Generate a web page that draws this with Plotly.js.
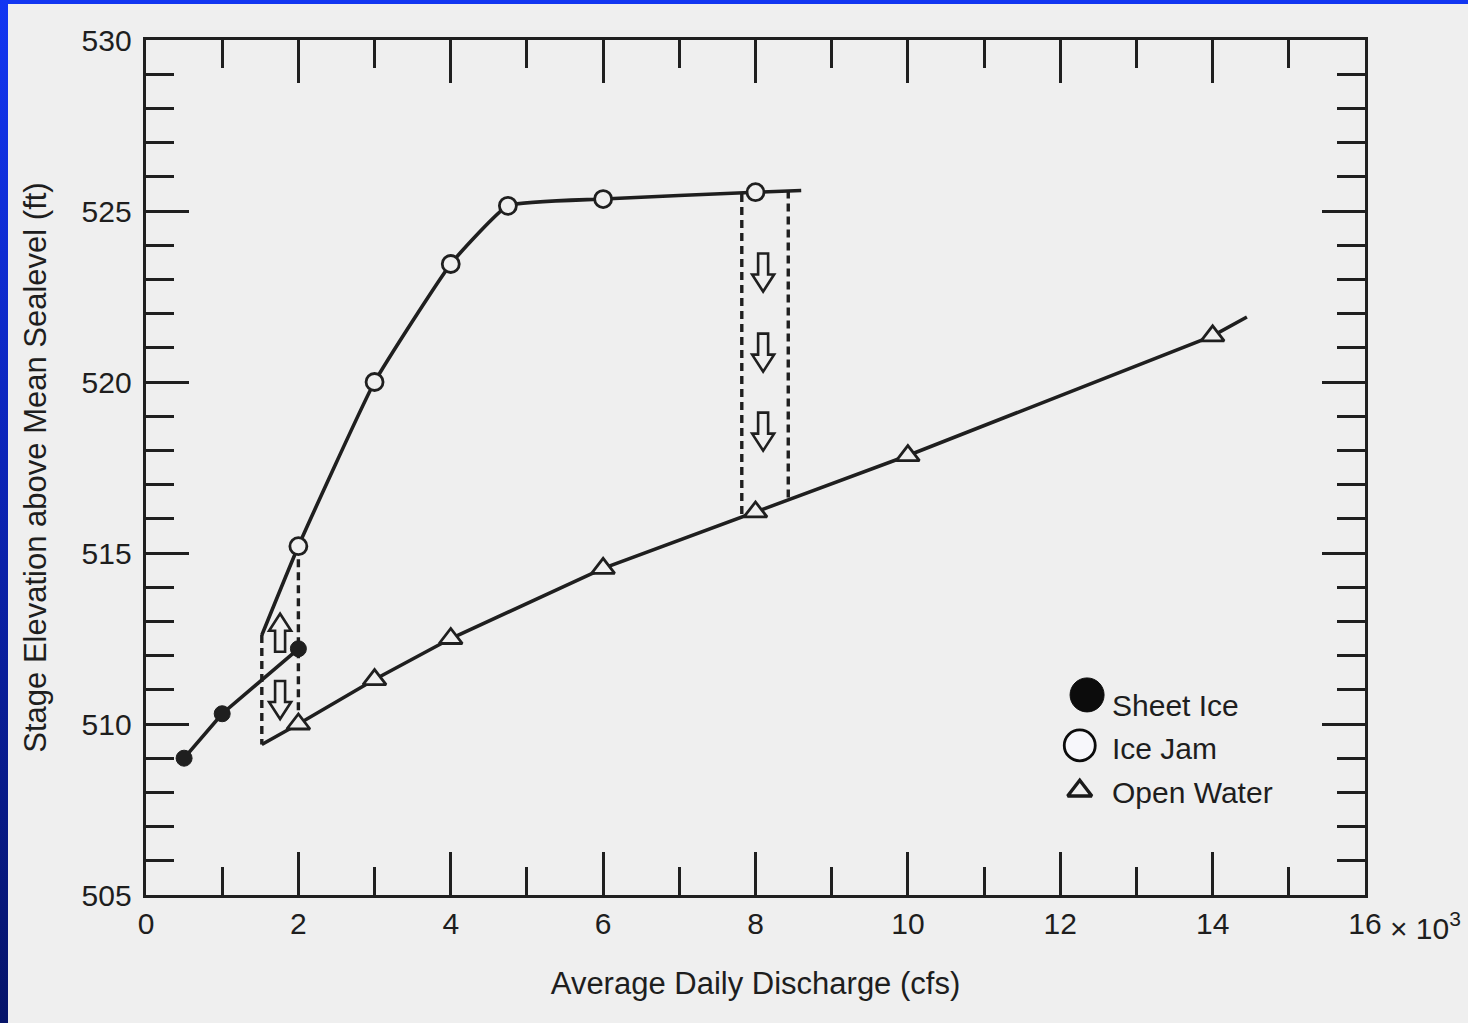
<!DOCTYPE html>
<html>
<head>
<meta charset="utf-8">
<script src="https://cdn.plot.ly/plotly-3.0.1.min.js"></script>
<style>
  html, body { margin: 0; padding: 0; }
  body {
    width: 1468px; height: 1023px; overflow: hidden;
    background: linear-gradient(to bottom, #1236f2 0%, #0b24b8 45%, #061469 100%);
  }
  #chart { position: absolute; left: 8px; top: 4px; width: 1460px; height: 1019px; }
</style>
</head>
<body>
<div id="chart"></div>
<script>
// ---------- data (discharge in thousands of cfs, stage in ft) ----------
const sheetIceX = [0.5, 1.0, 2.0];
const sheetIceY = [509.0, 510.3, 512.2];

const iceJamX = [2.0, 3.0, 4.0, 4.75, 6.0, 8.0];
const iceJamY = [515.2, 520.0, 523.45, 525.15, 525.35, 525.55];
const iceJamStart = [1.52, 512.6];   // curve begins (no marker)
const iceJamEnd = [8.6, 525.6];      // curve ends (no marker)

const openWaterX = [2.0, 3.0, 4.0, 6.0, 8.0, 10.0, 14.0];
const openWaterY = [510.0, 511.3, 512.5, 514.55, 516.2, 517.85, 521.35];
const openWaterStart = [1.52, 509.4];
const openWaterEnd = [14.45, 521.9];

// dashed transition bounds
const dropX = [1.52, 2.0, 7.82, 8.43];
const dropTop = [512.6, 515.2, 525.5, 525.6];
const dropBottom = [509.4, 510.0, 516.05, 516.6];

// hollow arrows: [x, y centre, direction]
const arrowX = [1.76, 1.76, 8.1, 8.1, 8.1];
const arrowY = [512.67, 510.7, 523.2, 520.86, 518.55];
const arrowDir = ["up", "down", "down", "down", "down"];

const legendLabels = ["Sheet Ice", "Ice Jam", "Open Water"];

const xTickVals = [0, 2, 4, 6, 8, 10, 12, 14, 16];
const xTickText = ["0", "2", "4", "6", "8", "10", "12", "14", "16"];
const yTickVals = [505, 510, 515, 520, 525, 530];

// ---------- styling ----------
const INK = "#1f1f1f";
const TEXT = "#1e1e1e";
const PAPER = "#efefef";
const FONT = "Liberation Sans, Arial, Helvetica, sans-serif";

// dashed segments built from the arrays
const dashX = [], dashY = [];
dropX.forEach((x, i) => { dashX.push(x, x, null); dashY.push(dropTop[i], dropBottom[i], null); });

const traces = [
  { x: dashX, y: dashY, mode: "lines", line: { color: INK, width: 3.4, dash: "8px,5px" },
    hoverinfo: "skip", showlegend: false },
  { x: [iceJamStart[0], ...iceJamX, iceJamEnd[0]], y: [iceJamStart[1], ...iceJamY, iceJamEnd[1]],
    mode: "lines", line: { color: INK, width: 3.6, shape: "spline", smoothing: 0.4 },
    hoverinfo: "skip", showlegend: false },
  { x: [openWaterStart[0], ...openWaterX, openWaterEnd[0]], y: [openWaterStart[1], ...openWaterY, openWaterEnd[1]],
    mode: "lines", line: { color: INK, width: 3.6 }, hoverinfo: "skip", showlegend: false },
  { x: sheetIceX, y: sheetIceY, mode: "lines+markers", name: "Sheet Ice",
    line: { color: INK, width: 3.6 },
    marker: { symbol: "circle", size: 16, color: INK, opacity: 1, line: { color: INK, width: 1 } }, showlegend: false },
  { x: iceJamX, y: iceJamY, mode: "markers", name: "Ice Jam",
    marker: { symbol: "circle", size: 17, color: PAPER, opacity: 1, line: { color: INK, width: 2.8 } }, showlegend: false },
  { x: openWaterX, y: openWaterY, mode: "markers", name: "Open Water",
    marker: { symbol: "triangle-up", size: 20, color: PAPER, opacity: 1, line: { color: INK, width: 2.8 } }, showlegend: false },
  // custom legend keys on an overlay axis spanning the plot area (0..1)
  { x: [0.772], y: [0.234], xaxis: "x2", yaxis: "y2", mode: "markers",
    marker: { symbol: "circle", size: 34, color: "#0c0c0c", opacity: 1, line: { color: "#0c0c0c", width: 1 } },
    hoverinfo: "skip", showlegend: false },
  { x: [0.766], y: [0.175], xaxis: "x2", yaxis: "y2", mode: "markers",
    marker: { symbol: "circle", size: 31, color: "#f7f7fb", opacity: 1, line: { color: "#0c0c0c", width: 2.8 } },
    hoverinfo: "skip", showlegend: false },
  { x: [0.766], y: [0.122], xaxis: "x2", yaxis: "y2", mode: "markers",
    marker: { symbol: "triangle-up", size: 21, color: PAPER, opacity: 1, line: { color: "#1a1a1a", width: 3.4 } },
    hoverinfo: "skip", showlegend: false }
];

// hollow block arrows as pixel-sized shapes anchored in data coordinates
const downPath = "M-5,19 L5,19 L5,-2 L11,-2 L0,-19 L-11,-2 L-5,-2 Z";
const upPath = "M-5,-19 L5,-19 L5,2 L11,2 L0,19 L-11,2 L-5,2 Z";
const shapes = arrowX.map((x, i) => ({
  type: "path", xref: "x", yref: "y", xsizemode: "pixel", ysizemode: "pixel",
  xanchor: x, yanchor: arrowY[i], path: arrowDir[i] === "up" ? upPath : downPath,
  line: { color: INK, width: 2.6 }, fillcolor: "rgba(0,0,0,0)", layer: "above"
}));

const legendY = [0.222, 0.171, 0.12];
const annotations = legendLabels.map((t, i) => ({
  text: t, xref: "paper", yref: "paper", x: 0.791, y: legendY[i], xanchor: "left", yanchor: "middle",
  showarrow: false, font: { family: FONT, size: 30, color: TEXT }
}));
annotations.push({
  text: "× 10<sup>3</sup>", xref: "paper", yref: "paper", x: 1.019, y: -0.036,
  xanchor: "left", yanchor: "middle", showarrow: false, font: { family: FONT, size: 30, color: TEXT }
});

const axisCommon = {
  showline: true, linecolor: INK, linewidth: 3.4, mirror: "allticks",
  ticks: "inside", tickcolor: INK, tickwidth: 3, ticklen: 43,
  showgrid: false, zeroline: false,
  tickfont: { family: FONT, size: 30, color: TEXT }
};

const layout = {
  width: 1460, height: 1019,
  paper_bgcolor: PAPER, plot_bgcolor: PAPER,
  margin: { l: 138, r: 103, t: 36, b: 128 },
  font: { family: FONT, color: TEXT },
  xaxis: Object.assign({}, axisCommon, {
    range: [0, 16], tickvals: xTickVals, ticktext: xTickText,
    minor: { dtick: 1, tick0: 0, ticks: "inside", ticklen: 28, tickwidth: 3, tickcolor: INK, showgrid: false },
    title: { text: "Average Daily Discharge (cfs)", font: { family: FONT, size: 31, color: TEXT }, standoff: 34 }
  }),
  yaxis: Object.assign({}, axisCommon, {
    range: [505, 530], tickvals: yTickVals, ticklabelstandoff: 5,
    minor: { dtick: 1, tick0: 505, ticks: "inside", ticklen: 28, tickwidth: 3, tickcolor: INK, showgrid: false },
    title: { text: "Stage Elevation above Mean Sealevel (ft)", font: { family: FONT, size: 31, color: TEXT }, standoff: 26 }
  }),
  xaxis2: { overlaying: "x", range: [0, 1], visible: false, fixedrange: true },
  yaxis2: { overlaying: "y", range: [0, 1], visible: false, fixedrange: true },
  shapes: shapes,
  annotations: annotations,
  showlegend: false
};

Plotly.newPlot("chart", traces, layout, { displayModeBar: false, staticPlot: true });
</script>
</body>
</html>
